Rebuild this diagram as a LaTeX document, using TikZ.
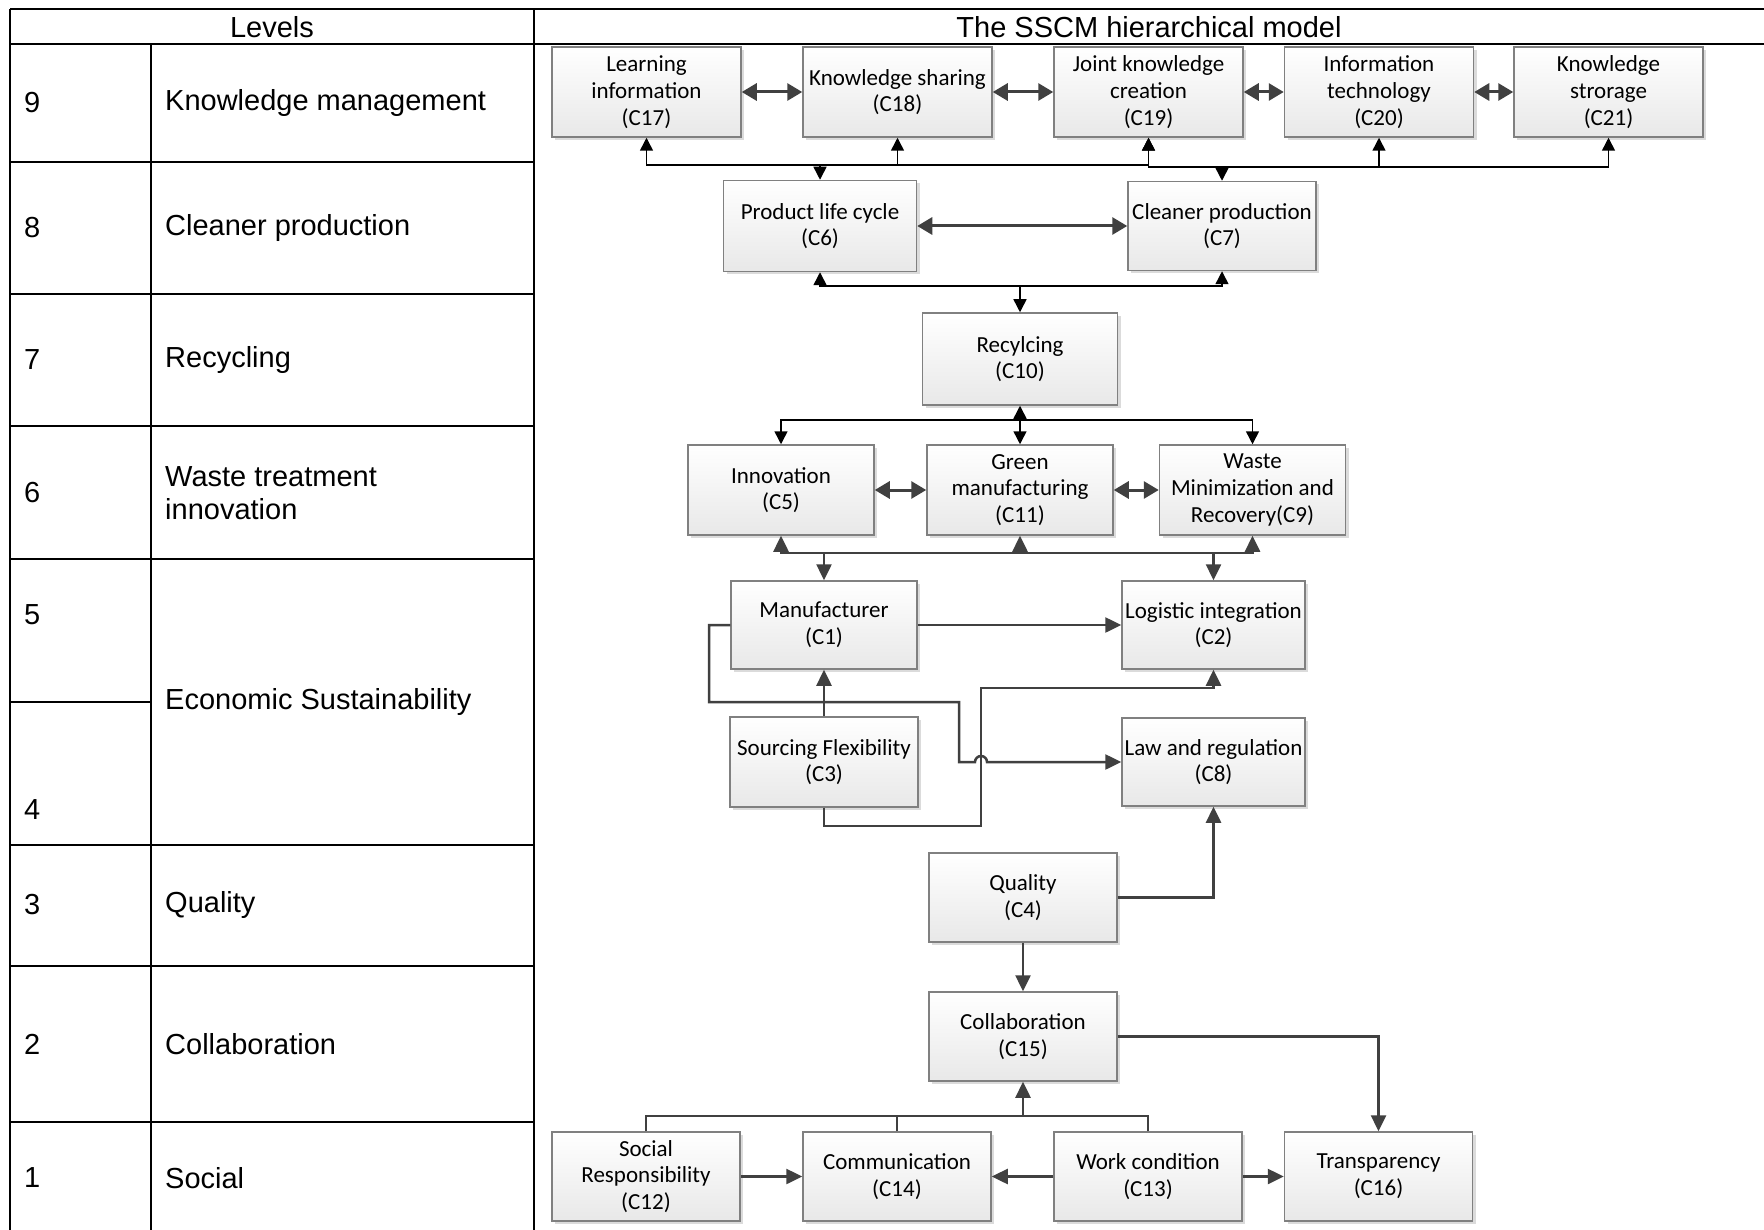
\documentclass[tikz,border=0pt]{standalone}
\usepackage{fontspec}
\setmainfont{Liberation Sans}
\newfontfamily\boxfont{Carlito}
\usetikzlibrary{arrows.meta,shadows}

\definecolor{linegray}{RGB}{64,64,64}
\definecolor{boxline}{RGB}{128,128,128}

\begin{document}
\begin{tikzpicture}[x=1pt, y=-1pt,
    box/.style={draw=boxline, line width=1.5pt, top color=white, bottom color=black!9,
      drop shadow={shadow xshift=3pt, shadow yshift=-3pt, fill=black!14, opacity=1},
      minimum width=188pt, minimum height=89pt, inner sep=2pt, align=center,
      font=\boxfont\fontsize{23}{26.7}\selectfont},
    lvl/.style={anchor=west, align=left, inner sep=0pt, font=\fontsize{29}{33.5}\selectfont},
    tline/.style={line width=1.5pt},
    tarr/.style={arrows={-Triangle[length=13pt,width=13pt]}, line width=1.5pt},
    garr/.style={arrows={-Triangle[length=16pt,width=15pt]}, line width=2.5pt, draw=linegray},
    gline/.style={line width=2.5pt, draw=linegray},
    dbl/.style={arrows={Triangle[length=15pt,width=17pt]-Triangle[length=15pt,width=17pt]},
      line width=3pt, draw=linegray}]

  \useasboundingbox (0,0) rectangle (1764,1230);
  \fill[white] (0,0) rectangle (1764,1230);

  % table of levels
  \draw[tline] (10,9) -- (1764,9);
  \draw[tline] (10,44) -- (1764,44);
  \draw[tline] (10,9) -- (10,1230);
  \draw[tline] (534,9) -- (534,1230);
  \draw[tline] (151,44) -- (151,1230);
  \draw[tline] (10,162) -- (534,162);
  \draw[tline] (10,294) -- (534,294);
  \draw[tline] (10,426) -- (534,426);
  \draw[tline] (10,559) -- (534,559);
  \draw[tline] (10,702) -- (151,702);
  \draw[tline] (10,845) -- (534,845);
  \draw[tline] (10,966) -- (534,966);
  \draw[tline] (10,1122) -- (534,1122);

  \node (levels) at (272,27) [font=\fontsize{29}{34}\selectfont] {Levels};
  \node (model) at (1149,27) [font=\fontsize{29}{34}\selectfont] {The SSCM hierarchical model};

  \node (n9) [lvl] at (24,103) {9};
  \node (l9) [lvl] at (165,103) {Knowledge management};
  \node (n8) [lvl] at (24,228) {8};
  \node (l8) [lvl] at (165,228) {Cleaner production};
  \node (n7) [lvl] at (24,360) {7};
  \node (l7) [lvl] at (165,360) {Recycling};
  \node (n6) [lvl] at (24,493) {6};
  \node (l6) [lvl] at (165,493) {Waste treatment\\innovation};
  \node (n5) [lvl] at (24,615) {5};
  \node (n4) [lvl] at (24,810) {4};
  \node (l45) [lvl] at (165,702) {Economic Sustainability};
  \node (n3) [lvl] at (24,905) {3};
  \node (l3) [lvl] at (165,905) {Quality};
  \node (n2) [lvl] at (24,1044) {2};
  \node (l2) [lvl] at (165,1044) {Collaboration};
  \node (n1) [lvl] at (24,1178) {1};
  \node (l1) [lvl] at (165,1178) {Social};

  % level 9
  \node (c17) [box, minimum width=189pt, minimum height=90pt] at (646.5,92) {Learning\\information\\(C17)};
  \node (c18) [box, minimum width=189pt, minimum height=90pt] at (897.5,92) {Knowledge sharing\\(C18)};
  \node (c19) [box, minimum width=189pt, minimum height=90pt] at (1148.5,92) {Joint knowledge\\creation\\(C19)};
  \node (c20) [box, minimum width=189pt, minimum height=90pt] at (1379,92) {Information\\technology\\(C20)};
  \node (c21) [box, minimum width=189pt, minimum height=90pt] at (1608.5,92) {Knowledge\\strorage\\(C21)};

  % level 8
  \node (c6) [box, minimum width=193pt, minimum height=91pt] at (820,226) {Product life cycle\\(C6)};
  \node (c7) [box] at (1222,226) {Cleaner production\\(C7)};

  % level 7
  \node (c10) [box, minimum width=195pt, minimum height=92pt] at (1020,359) {Recylcing\\(C10)};

  % level 6
  \node (c5) [box, minimum width=186pt, minimum height=90pt] at (781,490) {Innovation\\(C5)};
  \node (c11) [box, minimum width=186pt, minimum height=90pt] at (1020,490) {Green\\manufacturing\\(C11)};
  \node (c9) [box, minimum width=186pt, minimum height=90pt] at (1252.5,490) {Waste\\Minimization and\\Recovery(C9)};

  % levels 5 and 4
  \node (c1) [box, minimum width=186pt, minimum height=88pt] at (824,625) {Manufacturer\\(C1)};
  \node (c2) [box, minimum width=183pt, minimum height=88pt] at (1213.5,625) {Logistic integration\\(C2)};
  \node (c3) [box, minimum height=90pt] at (824,762) {Sourcing Flexibility\\(C3)};
  \node (c8) [box, minimum width=183pt, minimum height=88pt] at (1213.5,762) {Law and regulation\\(C8)};

  % levels 3 to 1
  \node (c4) [box] at (1023,897.5) {Quality\\(C4)};
  \node (c15) [box] at (1023,1036.5) {Collaboration\\(C15)};
  \node (c12) [box] at (646,1176.5) {Social\\Responsibility\\(C12)};
  \node (c14) [box] at (897,1176.5) {Communication\\(C14)};
  \node (c13) [box] at (1148,1176.5) {Work condition\\(C13)};
  \node (c16) [box] at (1378.5,1176.5) {Transparency\\(C16)};

  \path (c17) edge [dbl] (c18);
  \path (c18) edge [dbl] (c19);
  \path (c19) edge [dbl] (c20);
  \path (c20) edge [dbl] (c21);
  \path (c6) edge [dbl] (c7);
  \path (c5) edge [dbl] (c11);
  \path (c11) edge [dbl] (c9);

  % buses
  \coordinate (k6) at (820,165);
  \coordinate (k7) at (1222,167);
  \draw[tarr] (k6) -- (c6);
  \draw[tarr] (k6) -| (c17);
  \draw[tarr] (k6) -| (c18);
  \draw[tarr] (k6) -| (c19);
  \draw[tarr] (k7) -- (c7);
  \draw[tarr] (k7) -| (c19);
  \draw[tarr] (k7) -| (c20);
  \draw[tarr] (k7) -| (c21);

  \coordinate (k10) at (1020,286);
  \draw[tarr] (k10) -- (c10);
  \draw[tarr] (k10) -| (c6);
  \draw[tarr] (k10) -| (c7);

  \coordinate (k11) at (1020,420);
  \draw[tarr] (k11) -- (c10);
  \draw[tarr] (k11) -- (c11);
  \draw[tarr] (k11) -| (c5);
  \draw[tarr] (k11) -| (c9);

  \coordinate (k1) at (824,553);
  \coordinate (k2) at (1213.5,553);
  \draw[gline] (k1) -- (k2);
  \draw[garr] (k1) -- (c1);
  \draw[garr] (k2) -- (c2);
  \draw[garr] (k1) -| (c5);
  \draw[garr] (k1) -| (c11);
  \draw[garr] (k2) -| (c9);

  \path (c1) edge [garr] (c2);
  \path (c3) edge [garr] (c1);

  \coordinate (m1) at (709,702);
  \coordinate (m2) at (959,762);
  \draw[garr] (c1.west) -| (m1) -| (m2) -- ++(16,0)
    arc[start angle=180, end angle=360, radius=6] -- (c8.west);

  \coordinate (s1) at (824,826);
  \coordinate (s2) at (981,688);
  \draw[garr] (c3.south) -- (s1) -| (s2) -| (c2);

  \draw[garr] (c4.east) -| (c8);
  \path (c4) edge [garr] (c15);
  \draw[garr] (c15.east) -| (c16);

  \coordinate (k15) at (1023,1116);
  \draw[garr] (k15) -- (c15);
  \draw[gline] (c12) |- (k15);
  \draw[gline] (c14) |- (k15);
  \draw[gline] (c13) |- (k15);

  \path (c12) edge [garr] (c14);
  \path (c13) edge [garr] (c14);
  \path (c13) edge [garr] (c16);
\end{tikzpicture}
\end{document}
